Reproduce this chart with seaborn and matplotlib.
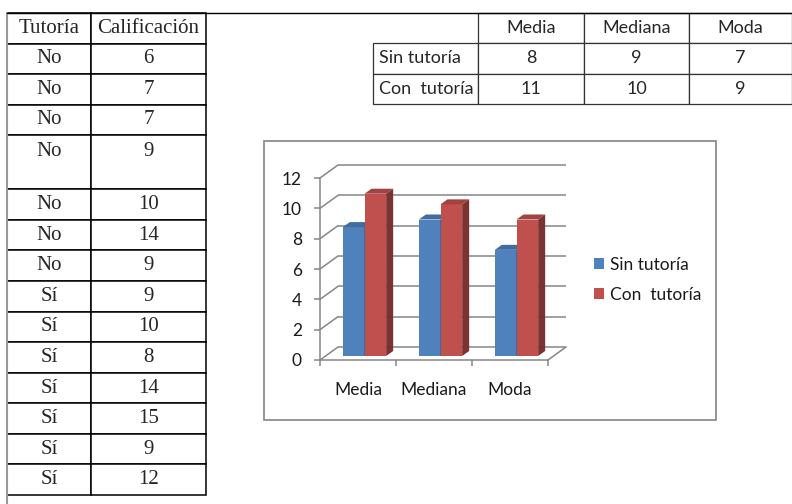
import numpy as np
import pandas as pd
import seaborn as sns
import matplotlib.pyplot as plt
from matplotlib.patches import Polygon, Rectangle

# tabla de calificaciones
tutoria = ["No", "No", "No", "No", "No", "No", "No", "Sí", "Sí", "Sí", "Sí", "Sí", "Sí", "Sí"]
calificacion = [6, 7, 7, 9, 10, 14, 9, 9, 10, 8, 14, 15, 9, 12]

# tabla resumen
medidas = ["Media", "Mediana", "Moda"]
grupos = ["Sin tutoría", "Con  tutoría"]
resumen_sin = [8, 9, 7]
resumen_con = [11, 10, 9]

# alturas
grafico_sin = [8.5, 9, 7]
grafico_con = [10.7, 10, 9]

sns.set_style("white")
plt.rcParams["font.family"] = ["Lato", "DejaVu Sans"]

W, H = 792, 504


def frac_box(x0, y0, x1, y1):
    # pixel box (top-left origin) -> figure fraction [left, bottom, width, height]
    return [x0 / W, 1 - y1 / H, (x1 - x0) / W, (y1 - y0) / H]


fig = plt.figure(figsize=(W / 100, H / 100), dpi=100)

bg = fig.add_axes([0, 0, 1, 1])
bg.set_xlim(0, W)
bg.set_ylim(H, 0)
bg.axis("off")

# lineas de la página
bg.plot([7, 7], [13, H], color="#999999", lw=1.5)
bg.plot([7, W], [13, 13], color="black", lw=1.0)

# tabla izquierda
t1 = bg.table(cellText=[[t, str(c)] for t, c in zip(tutoria, calificacion)],
              colLabels=["Tutoría", "Calificación"], cellLoc="center",
              colWidths=[84, 115], bbox=frac_box(7, 13, 206, 495))
t1.auto_set_font_size(False)
t1.set_fontsize(15)
for (r, c), cell in t1.get_celld().items():
    cell.set_linewidth(1.1)
    cell.get_text().set_fontfamily(["Liberation Serif", "DejaVu Serif"])
    if r == 4:  # fila alta con el texto arriba
        cell.set_height(54)
        cell.get_text().set_text(cell.get_text().get_text() + "\n ")
    else:
        cell.set_height(30.57)

# tabla resumen
filas = [[g] + [str(v) for v in vals] for g, vals in zip(grupos, [resumen_sin, resumen_con])]
t2 = bg.table(cellText=filas, colLabels=[""] + medidas, cellLoc="center",
              colWidths=[105, 106, 105, 103], bbox=frac_box(373, 13, 792, 104))
t2.auto_set_font_size(False)
t2.set_fontsize(13)
for (r, c), cell in t2.get_celld().items():
    cell.set_linewidth(0.9)
    cell.set_edgecolor("#333333")
    cell.get_text().set_fontfamily(["Lato", "DejaVu Sans"])
    if c == 0:
        cell.PAD = 0.055
        cell.get_text().set_horizontalalignment("left")
        cell._loc = "left"
    if r == 0 and c == 0:
        cell.visible_edges = "open"

# marco del gráfico
bg.add_patch(Rectangle((264, 141), 452, 279, fill=False, ec="#8E8E8E", lw=1.3))

# gráfico de barras
ax = fig.add_axes(frac_box(320, 178, 548, 360))
ax.patch.set_alpha(0)
df = pd.DataFrame({
    "medida": medidas * 2,
    "valor": grafico_sin + grafico_con,
    "grupo": [grupos[0]] * 3 + [grupos[1]] * 3,
})
sns.barplot(data=df, x="medida", y="valor", hue="grupo", palette=["#4F81BD", "#C0504D"],
            width=0.57, saturation=1, linewidth=0, errorbar=None, ax=ax)
ax.set_xlim(-0.5, 2.5)
ax.set_ylim(0, 12)

grid_c = "#868686"
px_x = 228 / 3
px_y = 182 / 12
wall_dx, wall_dy = 18 / px_x, 13 / px_y
bar_dx, bar_dy = 7 / px_x, 5 / px_y
shift_x, shift_y = 6.5 / px_x, 4 / px_y

ticks = np.arange(0, 13, 2)
ax.hlines(ticks + wall_dy, -0.5 + wall_dx, 2.5 + wall_dx, color=grid_c, lw=1.1,
          clip_on=False, zorder=1)
for t in ticks:
    ax.plot([-0.5, -0.5 + wall_dx], [t, t + wall_dy], color=grid_c, lw=1.1,
            clip_on=False, zorder=1)
ax.plot([2.5, 2.5 + wall_dx], [0, wall_dy], color=grid_c, lw=1.1, clip_on=False, zorder=1)

# caras 3D de las barras
bars = list(ax.patches)
for i, bar in enumerate(bars):
    z = 2 if i < 3 else 3
    x0 = bar.get_x() + shift_x
    w = bar.get_width()
    h = bar.get_height()
    bar.set_x(x0)
    bar.set_y(shift_y)
    bar.set_zorder(z)
    front = np.array(bar.get_facecolor()[:3])
    top = shift_y + h
    x1 = x0 + w
    ax.add_patch(Polygon([(x0, top), (x1, top), (x1 + bar_dx, top + bar_dy), (x0 + bar_dx, top + bar_dy)],
                         closed=True, fc=front * 0.84, lw=0, zorder=z + 0.1))
    ax.add_patch(Polygon([(x1, shift_y), (x1, top), (x1 + bar_dx, top + bar_dy), (x1 + bar_dx, shift_y + bar_dy)],
                         closed=True, fc=front * 0.64, lw=0, zorder=z + 0.1))

for s in ["top", "right"]:
    ax.spines[s].set_visible(False)
for s in ["left", "bottom"]:
    ax.spines[s].set_color(grid_c)
    ax.spines[s].set_linewidth(1.1)

ax.set_xticks([-0.5, 0.5, 1.5, 2.5], ["", "", "", ""])
ax.set_xticks(range(3), medidas, minor=True)
ax.tick_params(axis="x", which="major", bottom=True, length=4, color=grid_c, width=1.1)
ax.tick_params(axis="x", which="minor", bottom=True, length=0, pad=16, labelsize=12.5,
               labelcolor="#1a1a1a")
ax.set_yticks(ticks)
ax.tick_params(axis="y", left=True, length=4, color=grid_c, width=1.1, pad=9,
               labelsize=12.5, labelcolor="#1a1a1a")
ax.set_xlabel("")
ax.set_ylabel("")

sns.move_legend(ax, "upper left", bbox_to_anchor=((594 - 320) / 228, (360 - 257) / 182),
                title=None, frameon=False, fontsize=12.5, handlelength=0.6, handleheight=0.6,
                handletextpad=0.35, labelspacing=0.8, borderaxespad=0, borderpad=0)
for txt in ax.get_legend().get_texts():
    txt.set_color("#1a1a1a")

fig.savefig("out.png", dpi=100)
